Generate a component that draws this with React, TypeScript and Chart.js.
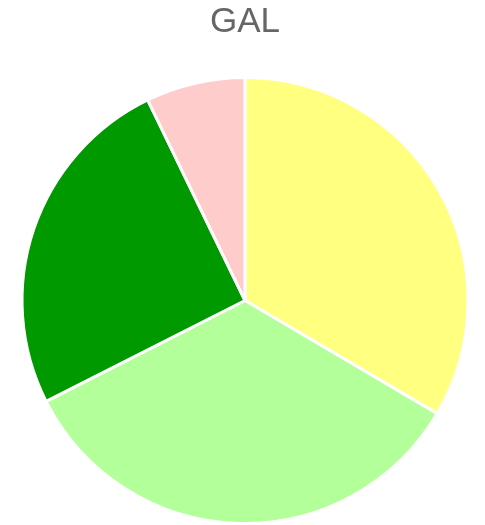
import React, { useEffect, useRef } from "react";
import { Chart, registerables } from "chart.js";

Chart.register(...registerables);

const categories = ["A", "B", "C", "D"];
const values = [33.5, 34.1, 25.3, 7.2];
const colors = ["#ffff80", "#b3ff99", "#009900", "#ffcccc"];
const titleText = "GAL";

export default function App() {
  const ref = useRef<HTMLCanvasElement | null>(null);
  useEffect(() => {
    document.body.style.margin = "0";
    const chart = new Chart(ref.current!, {
      type: "pie",
      data: {
        labels: categories,
        datasets: [
          {
            data: values,
            backgroundColor: colors,
            borderColor: "#ffffff",
            borderWidth: 3,
          },
        ],
      },
      options: {
        animation: false,
        responsive: false,
        layout: { padding: { left: 5, right: 0, top: 0, bottom: 0 } },
        plugins: {
          legend: { display: false },
          tooltip: { enabled: false },
          title: {
            display: true,
            text: titleText,
            color: "#666666",
            font: { family: "'Liberation Sans', Arial, sans-serif", size: 35, weight: "normal" },
            padding: { top: 1, bottom: 33 },
          },
        },
      },
    });
    return () => chart.destroy();
  }, []);
  return (
    <div style={{ width: 485, height: 525 }}>
      <canvas ref={ref} width={485} height={525} style={{ display: "block" }} />
    </div>
  );
}
